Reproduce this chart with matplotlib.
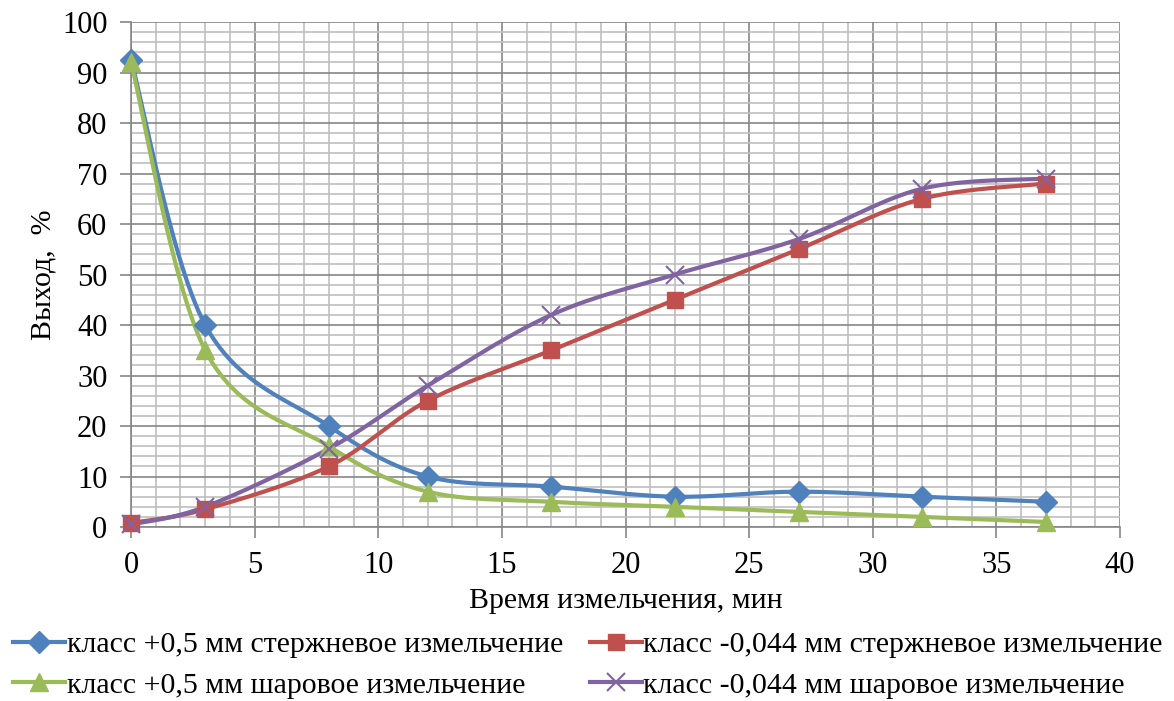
import numpy as np
import matplotlib as mpl
import matplotlib.pyplot as plt
from matplotlib.lines import Line2D

mpl.rcParams.update({
    'font.family': ['Liberation Serif', 'DejaVu Serif'],
    'font.size': 22,
})

# data
time_min = [0, 3, 8, 12, 17, 22, 27, 32, 37]
rod_plus = [92.5, 40, 20, 10, 8, 6, 7, 6, 5]
ball_plus = [92, 35, 16, 7, 5, 4, 3, 2, 1]
rod_minus = [0.8, 3.5, 12, 25, 35, 45, 55, 65, 68]
ball_minus = [0.5, 4, 15.5, 28, 42, 50, 57, 67, 69]

labels = [
    'класс +0,5 мм стержневое измельчение',
    'класс -0,044 мм стержневое измельчение',
    'класс +0,5 мм шаровое измельчение',
    'класс -0,044 мм шаровое измельчение',
]
colors = ['#4F81BD', '#C0504D', '#9BBB59', '#8064A2']
markers = ['D', 's', '^', 'x']
msizes = [11, 12, 13, 13]


def smooth(x, y, n=30):
    # Excel-like smoothed line: cubic Bezier through points,
    # control points from neighbouring points (Catmull-Rom style)
    x = np.asarray(x, float)
    y = np.asarray(y, float)
    px, py = [], []
    for i in range(len(x) - 1):
        x0, y0 = (x[i - 1], y[i - 1]) if i > 0 else (x[i], y[i])
        x3, y3 = (x[i + 2], y[i + 2]) if i + 2 < len(x) else (x[i + 1], y[i + 1])
        c1x = x[i] + (x[i + 1] - x0) / 6
        c1y = y[i] + (y[i + 1] - y0) / 6
        c2x = x[i + 1] - (x3 - x[i]) / 6
        c2y = y[i + 1] - (y3 - y[i]) / 6
        t = np.linspace(0, 1, n)
        bx = ((1 - t) ** 3 * x[i] + 3 * (1 - t) ** 2 * t * c1x
              + 3 * (1 - t) * t ** 2 * c2x + t ** 3 * x[i + 1])
        by = ((1 - t) ** 3 * y[i] + 3 * (1 - t) ** 2 * t * c1y
              + 3 * (1 - t) * t ** 2 * c2y + t ** 3 * y[i + 1])
        px.extend(bx)
        py.extend(by)
    return px, py


fig = plt.figure(figsize=(11.74, 7.01), dpi=100)
ax = fig.add_axes([0.1116, 0.2482, 0.8424, 0.7204])

series = [rod_plus, rod_minus, ball_plus, ball_minus]
order = [0, 2, 1, 3]
for k in order:
    ys = series[k]
    sx, sy = smooth(time_min, ys)
    ax.plot(sx, sy, color=colors[k], lw=3, zorder=3, solid_capstyle='round',
            clip_on=False)
    if markers[k] == 'x':
        ax.plot(time_min, ys, ls='none', marker='x', ms=msizes[k],
                mew=1.5, color=colors[k], zorder=4, clip_on=False)
    else:
        ax.plot(time_min, ys, ls='none', marker=markers[k], ms=msizes[k],
                color=colors[k], mec=colors[k], zorder=4, clip_on=False)

ax.set_xlim(0, 40)
ax.set_ylim(0, 100)
ax.set_xticks(np.arange(0, 41, 5))
ax.set_yticks(np.arange(0, 101, 10))
ax.set_xticks(np.arange(0, 41, 1), minor=True)
ax.set_yticks(np.arange(0, 101, 2), minor=True)
ax.grid(which='major', color='#868686', lw=1.2, zorder=1)
ax.grid(which='minor', color='#BFBFBF', lw=1.2, zorder=0)
ax.tick_params(which='major', direction='out', length=8, width=1.2,
               color='#868686', labelsize=22)
ax.tick_params(axis='x', pad=9)
ax.tick_params(axis='y', pad=9)
ax.tick_params(which='minor', length=0)
for s in ['top', 'right']:
    ax.spines[s].set_visible(False)
for s in ['left', 'bottom']:
    ax.spines[s].set_color('#868686')
    ax.spines[s].set_linewidth(1.2)

ax.set_xlabel('Время измельчения, мин', fontsize=21.5, labelpad=6)
ax.set_ylabel('Выход,  %', fontsize=21.5, labelpad=4)

handles = [Line2D([], [], color=colors[k], lw=3, marker=markers[k],
                  ms=msizes[k], mew=1.5 if markers[k] == 'x' else 1,
                  label=labels[k]) for k in [0, 2, 1, 3]]
fig.legend(handles=handles, loc='lower left', ncol=2,
           bbox_to_anchor=(-0.012, -0.035), frameon=False, fontsize=21.5,
           handlelength=1.75, handletextpad=0.05, columnspacing=0.9,
           labelspacing=0.45)

fig.savefig('out.png', dpi=100)
